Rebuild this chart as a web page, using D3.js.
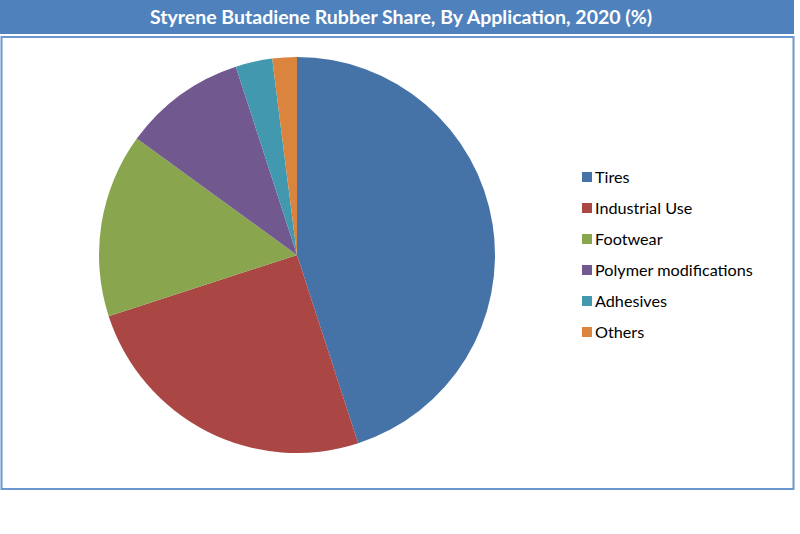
<!DOCTYPE html>
<html lang="en">
<head>
    <meta charset="UTF-8">
    <title>Styrene Butadiene Rubber Share</title>
    <style>
        body { margin: 0; background: #fff; }
    </style>
</head>
<body>
    <div class="container"></div>
    <script src="https://cdn.jsdelivr.net/npm/d3@7/dist/d3.min.js"></script>
    <script>
        const width = 800
        const height = 534

        const categories = ["Tires", "Industrial Use", "Footwear", "Polymer modifications", "Adhesives", "Others"]
        const shares = [45, 25, 15, 10, 3, 2]
        const colors = ["#4572a7", "#aa4643", "#89a54e", "#71588f", "#4198af", "#db843d"]

        const title = "Styrene Butadiene Rubber Share, By Application, 2020 (%)"

        const data = categories.map((name, i) => ({ name, value: shares[i] }))

        const svg = d3.select(".container").append("svg")
            .attr("width", width)
            .attr("height", height)

        // header band
        svg.append("rect")
            .attr("x", 0).attr("y", 0)
            .attr("width", 794).attr("height", 34)
            .attr("fill", "#4f81bd")

        svg.append("text")
            .attr("x", 401).attr("y", 24)
            .attr("text-anchor", "middle")
            .attr("fill", "#fff")
            .attr("font-family", "Lato, sans-serif")
            .attr("font-weight", "bold")
            .attr("font-size", 19.5)
            .text(title)

        // chart frame
        svg.append("rect")
            .attr("x", 1.5).attr("y", 37)
            .attr("width", 792).attr("height", 452)
            .attr("fill", "none")
            .attr("stroke", "#6a97d0")
            .attr("stroke-width", 2)

        const color = d3.scaleOrdinal().domain(categories).range(colors)

        const pie = d3.pie().value(d => d.value).sort(null)
        const arc = d3.arc().innerRadius(0).outerRadius(198)

        const chart = svg.append("g")
            .attr("class", "pie")
            .attr("transform", "translate(297,255)")

        chart.selectAll("path")
            .data(pie(data))
            .join("path")
            .attr("d", arc)
            .attr("fill", d => color(d.data.name))

        // legend
        const legendY = d3.scalePoint()
            .domain(categories)
            .range([177, 332])

        const legend = svg.append("g").attr("class", "legend")

        const items = legend.selectAll("g")
            .data(categories)
            .join("g")
            .attr("transform", d => `translate(582,${legendY(d)})`)

        items.append("rect")
            .attr("x", 0).attr("y", -5)
            .attr("width", 10).attr("height", 10)
            .attr("fill", d => color(d))

        items.append("text")
            .attr("x", 13).attr("y", 6)
            .attr("font-family", "Lato, sans-serif")
            .attr("font-size", 16.2)
            .attr("fill", "#000")
            .text(d => d)
    </script>
</body>
</html>
